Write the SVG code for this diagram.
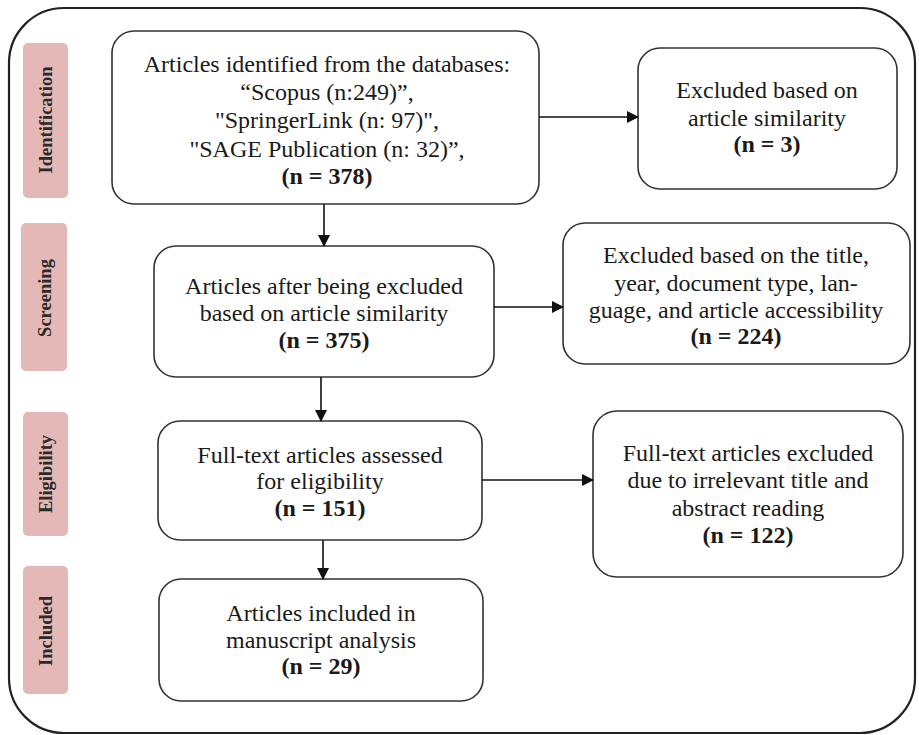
<svg xmlns="http://www.w3.org/2000/svg" width="919" height="735" viewBox="0 0 919 735">
<style>
.box{fill:#fff;stroke:#333;stroke-width:1.6}
.lab{fill:#e5b8b8}
.t{font-family:'Liberation Serif','Times New Roman','DejaVu Serif',serif;font-size:24px;fill:#1a1a1a;text-anchor:middle}
.b{font-weight:bold}
.s{font-family:'Liberation Serif','Times New Roman','DejaVu Serif',serif;font-size:18.5px;font-weight:bold;fill:#2a2a2a;text-anchor:middle}
.c{stroke:#111;stroke-width:1.6;fill:none}
</style>
<defs>
<marker id="ah" markerWidth="12" markerHeight="12" refX="11" refY="6" orient="auto" markerUnits="userSpaceOnUse">
<path d="M0,0 L12,6 L0,12 Z" fill="#111"/>
</marker>
</defs>
<rect id="frame" x="9" y="8" width="906" height="725" rx="55" ry="55" fill="none" stroke="#222" stroke-width="2.2"/>
<g id="lab-identification">
<rect class="lab" x="23" y="43" width="45" height="155" rx="5"/>
<text class="s" transform="translate(52,120) rotate(-90)">Identification</text>
</g>
<g id="lab-screening">
<rect class="lab" x="21" y="223" width="46" height="148" rx="5"/>
<text class="s" transform="translate(51,298) rotate(-90)">Screening</text>
</g>
<g id="lab-eligibility">
<rect class="lab" x="23" y="412" width="45" height="124" rx="5"/>
<text class="s" transform="translate(52,474) rotate(-90)">Eligibility</text>
</g>
<g id="lab-included">
<rect class="lab" x="23" y="566" width="45" height="128" rx="5"/>
<text class="s" transform="translate(52,631) rotate(-90)">Included</text>
</g>
<g id="n1">
<rect class="box" x="112" y="31" width="427" height="173" rx="22"/>
<text class="t" x="327" y="72">Articles identified from the databases:</text>
<text class="t" x="327" y="100">“Scopus (n:249)”,</text>
<text class="t" x="327" y="128">"SpringerLink (n: 97)",</text>
<text class="t" x="327" y="157">"SAGE Publication (n: 32)”,</text>
<text class="t b" x="327" y="184">(n = 378)</text>
</g>
<g id="n1x">
<rect class="box" x="638" y="48" width="259" height="141" rx="22"/>
<text class="t" x="767" y="98">Excluded based on</text>
<text class="t" x="767" y="126">article similarity</text>
<text class="t b" x="767" y="152">(n = 3)</text>
</g>
<g id="n2">
<rect class="box" x="154" y="246" width="340" height="131" rx="22"/>
<text class="t" x="324" y="294">Articles after being excluded</text>
<text class="t" x="324" y="321">based on article similarity</text>
<text class="t b" x="324" y="348">(n = 375)</text>
</g>
<g id="n2x">
<rect class="box" x="563" y="223" width="347" height="141" rx="22"/>
<text class="t" x="736" y="263">Excluded based on the title,</text>
<text class="t" x="736" y="291">year, document type, lan-</text>
<text class="t" x="736" y="318">guage, and article accessibility</text>
<text class="t b" x="736" y="344">(n = 224)</text>
</g>
<g id="n3">
<rect class="box" x="158" y="421" width="324" height="119" rx="22"/>
<text class="t" x="320" y="463">Full-text articles assessed</text>
<text class="t" x="320" y="489">for eligibility</text>
<text class="t b" x="320" y="516">(n = 151)</text>
</g>
<g id="n3x">
<rect class="box" x="593" y="411" width="310" height="166" rx="24"/>
<text class="t" x="748" y="461">Full-text articles excluded</text>
<text class="t" x="748" y="488">due to irrelevant title and</text>
<text class="t" x="748" y="516">abstract reading</text>
<text class="t b" x="748" y="543">(n = 122)</text>
</g>
<g id="n4">
<rect class="box" x="159" y="579" width="324" height="122" rx="22"/>
<text class="t" x="321" y="621">Articles included in</text>
<text class="t" x="321" y="648">manuscript analysis</text>
<text class="t b" x="321" y="674">(n = 29)</text>
</g>
<g id="connectors">
<line class="c" x1="539" y1="117" x2="638" y2="117" marker-end="url(#ah)"/>
<line class="c" x1="324" y1="204" x2="324" y2="246" marker-end="url(#ah)"/>
<line class="c" x1="494" y1="307" x2="563" y2="307" marker-end="url(#ah)"/>
<line class="c" x1="321" y1="377" x2="321" y2="421" marker-end="url(#ah)"/>
<line class="c" x1="482" y1="480" x2="593" y2="480" marker-end="url(#ah)"/>
<line class="c" x1="323" y1="540" x2="323" y2="579" marker-end="url(#ah)"/>
</g>
</svg>
